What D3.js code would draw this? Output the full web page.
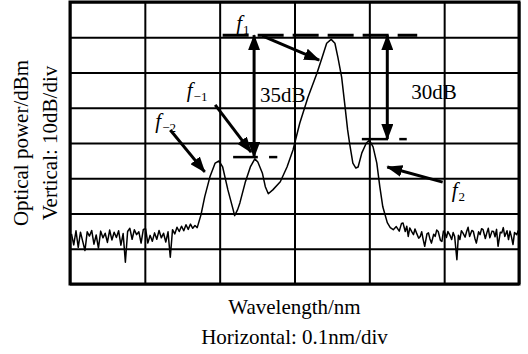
<!DOCTYPE html>
<html>
<head>
<meta charset="utf-8">
<script src="https://cdn.jsdelivr.net/npm/d3@7"></script>
<style>
  body { margin: 0; background: #fff; }
  text { font-family: "Liberation Serif", "Times New Roman", serif; fill: #000; }
</style>
</head>
<body>
<div id="chart"></div>
<script>
// trace: [offset wavelength in nm, power in dB]
var noiseLeft = [
  [0.002,-65.8],[0.005,-68.9],[0.008,-64.9],[0.011,-69.6],[0.014,-65.3],[0.017,-67.9],
  [0.020,-70.5],[0.023,-65.2],[0.026,-66.4],[0.029,-64.8],[0.032,-68.7],[0.035,-66.1],
  [0.038,-69.8],[0.041,-65.0],[0.044,-66.9],[0.047,-65.6],[0.050,-68.2],[0.053,-64.7],
  [0.056,-67.5],[0.059,-65.3],[0.062,-66.8],[0.065,-64.9],[0.068,-69.0],[0.071,-65.7],
  [0.074,-73.8],[0.077,-65.1],[0.080,-64.2],[0.083,-67.3],[0.086,-64.6],[0.089,-66.0],
  [0.092,-65.2],[0.095,-68.4],[0.098,-64.5],[0.101,-64.3],[0.104,-68.4],[0.107,-66.2],
  [0.110,-67.9],[0.113,-65.5],[0.116,-67.3],[0.119,-64.8],[0.122,-66.9],[0.125,-65.6],
  [0.128,-68.1],[0.131,-65.2],[0.134,-72.4],[0.137,-64.6],[0.140,-65.8],[0.143,-63.9],
  [0.146,-65.1],[0.149,-63.6],[0.152,-64.9],[0.155,-63.2],[0.158,-64.5],[0.161,-63.0],
  [0.164,-64.2],[0.167,-63.4],[0.170,-64.0]
];

var peaks = [
  [0.175,-60.4],[0.180,-55.3],[0.187,-49.6],[0.194,-45.7],[0.199,-45.1],[0.204,-46.8],
  [0.211,-53.3],[0.218,-58.9],[0.220,-60.6],[0.224,-58.9],[0.227,-57.0],[0.234,-51.3],
  [0.241,-46.8],[0.247,-44.5],[0.251,-45.4],[0.257,-48.5],[0.261,-52.4],[0.265,-54.4],
  [0.271,-53.3],[0.281,-51.0],[0.290,-46.8],[0.298,-42.0],[0.307,-34.4],[0.318,-27.0],
  [0.330,-20.2],[0.337,-15.7],[0.343,-11.7],[0.349,-10.6],[0.354,-11.7],[0.358,-15.7],
  [0.363,-21.3],[0.367,-28.7],[0.371,-36.3],[0.374,-40.6],[0.378,-45.7],[0.382,-47.1],
  [0.385,-46.8],[0.390,-42.8],[0.396,-40.0],[0.400,-39.2],[0.405,-41.1],[0.410,-45.7],
  [0.414,-52.4],[0.418,-58.1],[0.424,-62.6],[0.428,-64.0]
];

var noiseRight = [
  [0.432,-64.6],[0.436,-63.7],[0.440,-65.0],[0.443,-62.8],[0.445,-62.7],[0.448,-65.1],
  [0.450,-63.6],[0.452,-66.5],[0.454,-64.1],[0.457,-65.3],[0.459,-66.0],[0.461,-64.4],
  [0.463,-65.5],[0.466,-67.0],[0.468,-66.5],[0.470,-65.2],[0.472,-67.4],[0.474,-69.3],
  [0.477,-65.8],[0.479,-65.5],[0.481,-67.2],[0.483,-68.4],[0.486,-65.9],[0.488,-66.5],
  [0.490,-64.7],[0.492,-65.1],[0.495,-67.6],[0.497,-67.9],[0.499,-65.0],[0.501,-65.5],
  [0.503,-66.8],[0.505,-65.1],[0.508,-66.3],[0.510,-67.4],[0.512,-65.4],[0.514,-66.5],
  [0.517,-73.1],[0.519,-66.2],[0.521,-67.4],[0.523,-64.9],[0.525,-65.5],[0.528,-66.7],
  [0.530,-65.1],[0.532,-63.9],[0.534,-66.5],[0.537,-64.8],[0.539,-65.1],[0.541,-67.0],
  [0.543,-68.4],[0.546,-65.2],[0.548,-66.0],[0.550,-64.3],[0.552,-64.6],[0.555,-67.1],
  [0.557,-65.5],[0.559,-64.2],[0.561,-66.9],[0.564,-65.0],[0.566,-65.1],[0.568,-66.6],
  [0.570,-64.5],[0.572,-69.3],[0.575,-65.3],[0.577,-65.5],[0.579,-64.0],[0.581,-66.5],
  [0.584,-64.9],[0.586,-67.4],[0.588,-65.0],[0.590,-66.7],[0.592,-68.8],[0.594,-65.4],
  [0.597,-66.0],[0.599,-64.8]
];

// reference levels of the marked sidebands (dB) and where their markers sit (nm)
var levelF1 = -9.4, levelFm1 = -44.0, levelF2 = -38.9;
var gapLabels = ["35dB", "30dB"];
var xLabel = "Wavelength/nm", xScaleNote = "Horizontal: 0.1nm/div";
var yLabel = "Optical power/dBm", yScaleNote = "Vertical: 10dB/div";

var svgWidth = 528, svgHeight = 354;
var margin = {top: 2, right: 9, bottom: 70, left: 70};
var width = svgWidth - margin.left - margin.right;
var height = svgHeight - margin.top - margin.bottom;

var svg = d3.select("#chart").append("svg")
  .attr("width", svgWidth)
  .attr("height", svgHeight);

var defs = svg.append("defs");
defs.append("marker")
  .attr("id", "head")
  .attr("markerUnits", "userSpaceOnUse")
  .attr("viewBox", "0 0 16 12")
  .attr("markerWidth", 16).attr("markerHeight", 12)
  .attr("refX", 15).attr("refY", 6)
  .attr("orient", "auto-start-reverse")
  .append("path").attr("d", "M0,0 L16,6 L0,12 Z").attr("fill", "#000");

var g = svg.append("g").attr("transform", `translate(${margin.left},${margin.top})`);

var x = d3.scaleLinear().domain([0, 0.6]).range([0, width]);
var y = d3.scaleLinear().domain([-80, 0]).range([height, 0]);

// grid
g.append("g")
  .attr("transform", `translate(0,${height})`)
  .call(d3.axisBottom(x).ticks(6).tickSize(-height).tickFormat(""))
  .call(a => a.select(".domain").remove())
  .call(a => a.selectAll("line").attr("stroke", "#000").attr("stroke-width", 2));
g.append("g")
  .call(d3.axisLeft(y).ticks(8).tickSize(-width).tickFormat(""))
  .call(a => a.select(".domain").remove())
  .call(a => a.selectAll("line").attr("stroke", "#000").attr("stroke-width", 2));

g.append("rect")
  .attr("width", width).attr("height", height)
  .attr("fill", "none").attr("stroke", "#000").attr("stroke-width", 3);

// trace
var spectrum = noiseLeft.concat(peaks, noiseRight);
var line = d3.line().x(d => x(d[0])).y(d => y(d[1]));
g.append("path")
  .datum(spectrum)
  .attr("d", line)
  .attr("fill", "none")
  .attr("stroke", "#000")
  .attr("stroke-width", 1.5)
  .attr("stroke-linejoin", "round");

// level markers
function seg(x1, y1, x2, y2, w, dash) {
  return g.append("line")
    .attr("x1", x(x1)).attr("y1", y(y1))
    .attr("x2", x(x2)).attr("y2", y(y2))
    .attr("stroke", "#000").attr("stroke-width", w)
    .attr("stroke-dasharray", dash || null);
}
seg(0.204, levelF1, 0.464, levelF1, 3, "26,9");
seg(0.218, levelFm1, 0.251, levelFm1, 2.5);
seg(0.266, levelFm1, 0.277, levelFm1, 2.5);
seg(0.390, levelF2, 0.425, levelF2, 2.5);
seg(0.440, levelF2, 0.450, levelF2, 2.5);

// level differences
seg(0.246, levelF1, 0.246, levelFm1, 3)
  .attr("marker-start", "url(#head)").attr("marker-end", "url(#head)");
seg(0.424, levelF1, 0.424, levelF2, 3)
  .attr("marker-start", "url(#head)").attr("marker-end", "url(#head)");

// pointers to the lines
seg(0.257, -9.6, 0.333, -16.5, 3).attr("marker-end", "url(#head)");
seg(0.194, -29.2, 0.242, -42.6, 3).attr("marker-end", "url(#head)");
seg(0.134, -36.3, 0.180, -48.2, 3).attr("marker-end", "url(#head)");
seg(0.498, -51.1, 0.424, -46.8, 3).attr("marker-end", "url(#head)");

// labels
function fLabel(px, py, sub) {
  var t = g.append("text")
    .attr("x", x(px)).attr("y", y(py))
    .attr("font-size", 21);
  t.append("tspan").attr("font-style", "italic").text("f");
  t.append("tspan").attr("font-size", 13).attr("dx", 1).attr("dy", 4).text(sub);
}
fLabel(0.222, -7.9, "1");
fLabel(0.156, -27.0, "\u22121");
fLabel(0.114, -35.7, "\u22122");
fLabel(0.510, -55.3, "2");

g.append("text").attr("x", x(0.254)).attr("y", y(-28.4))
  .attr("font-size", 21).text(gapLabels[0]);
g.append("text").attr("x", x(0.456)).attr("y", y(-27.5))
  .attr("font-size", 21).text(gapLabels[1]);

// axis titles
svg.append("text")
  .attr("x", margin.left + width / 2).attr("y", 314)
  .attr("text-anchor", "middle").attr("font-size", 21)
  .text(xLabel);
svg.append("text")
  .attr("x", margin.left + width / 2).attr("y", 344)
  .attr("text-anchor", "middle").attr("font-size", 21)
  .text(xScaleNote);
svg.append("text")
  .attr("transform", `translate(28,${margin.top + height / 2}) rotate(-90)`)
  .attr("text-anchor", "middle").attr("font-size", 21)
  .text(yLabel);
svg.append("text")
  .attr("transform", `translate(57,${margin.top + height / 2}) rotate(-90)`)
  .attr("text-anchor", "middle").attr("font-size", 21)
  .text(yScaleNote);
</script>
</body>
</html>
